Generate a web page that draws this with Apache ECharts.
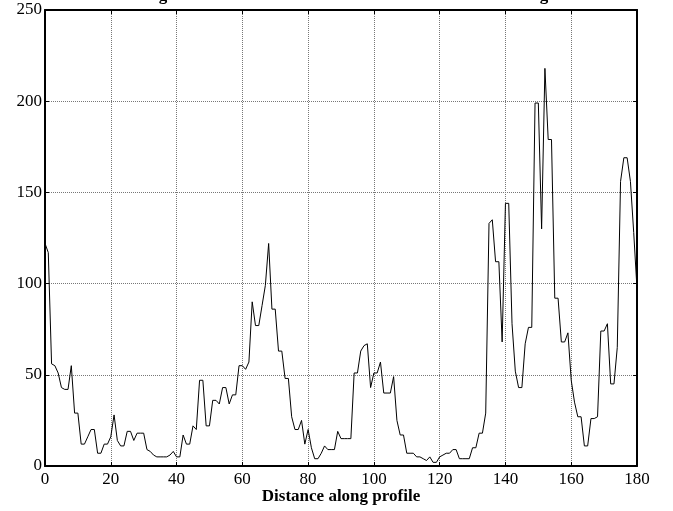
<!DOCTYPE html>
<html>
<head>
<meta charset="utf-8">
<script src="https://cdn.jsdelivr.net/npm/echarts@6/dist/echarts.min.js"></script>
<style>html,body{margin:0;padding:0;background:#fff;}#c{width:673px;height:511px;}</style>
</head>
<body>
<div id="c"></div>
<script>
// Distance along profile (x) and intensity values (y)
var distance = [];
for (var i = 0; i <= 180; i++) distance.push(i);
var intensity = [
122,117,56,55,51,43,42,42,55,29,
29,12,12,16,20,20,7,7,12,12,
16,28,14,11,11,19,19,14,18,18,
18,9,8,6,5,5,5,5,6,8,
5,5,17,12,12,22,20,47,47,22,
22,36,36,34,43,43,34,39,39,55,
55,53,57,90,77,77,88,99,122,86,
86,63,63,48,48,27,20,20,25,12,
20,10,4,4,7,11,9,9,9,19,
15,15,15,15,51,51,63,66,67,43,
51,51,57,40,40,40,49,25,17,17,
7,7,7,5,5,4,3,5,2,2,
5,6,7,7,9,9,4,4,4,4,
10,10,18,18,29,133,135,112,112,68,
144,144,78,52,43,43,67,76,76,199,
199,130,218,179,179,92,92,68,68,73,
47,35,27,27,11,11,26,26,27,74,
74,78,45,45,65,156,169,169,156,128,
97
];
var xTicks = [0,20,40,60,80,100,120,140,160,180];
var yTicks = [0,50,100,150,200,250];
var xLabel = 'Distance along profile';
var titleOptions = [
  'Intensities along the measured line drawn across the cell in the image',
  'Intensities along the measured line drawn across the cells in the image',
  'Intensities along the measured line drawn across the full cell in the image',
  'Intensities along the measured line drawn across the cell in this image'
];

var font = 'Liberation Serif';
// the title is clipped by the top edge in the reference; only two "g" descenders show
var cv = document.createElement('canvas').getContext('2d');
cv.font = 'bold 17px "' + font + '"';
function gSpan(t) {
  var a = t.indexOf('g'), b = t.lastIndexOf('g');
  return [cv.measureText(t.slice(0, a)).width, cv.measureText(t.slice(0, b)).width];
}
var titleText = titleOptions[0], best = 1e9;
titleOptions.forEach(function(t){
  var s = gSpan(t), d = Math.abs((s[1] - s[0]) - 385);
  if (d < best) { best = d; titleText = t; }
});
var gw = cv.measureText('g').width;
var titleLeft = 163 - gSpan(titleText)[0] - gw / 2;

var pts = distance.map(function(d, k){ return [d, intensity[k]]; });
var chart = echarts.init(document.getElementById('c'), null, {renderer:'canvas'});
var axisBase = {
  axisLine: {show: true, onZero: false, lineStyle: {color: '#000', width: 2}},
  axisTick: {show: true, inside: true, length: 4, lineStyle: {color: '#000', width: 1}}
};
chart.setOption({
  animation: false,
  backgroundColor: '#fff',
  title: {
    text: titleText,
    left: titleLeft,
    top: -13,
    padding: 0,
    textStyle: {fontFamily: font, fontWeight: 'bold', fontSize: 17, color: '#000'}
  },
  grid: {left: 45, right: 36, top: 10, bottom: 45, containLabel: false, outerBoundsMode: 'none'},
  xAxis: [
    Object.assign({}, axisBase, {
      type: 'value', min: 0, max: 180, interval: 20, position: 'bottom',
      name: xLabel, nameLocation: 'middle', nameGap: 22, nameMoveOverlap: false,
      nameTextStyle: {fontFamily: font, fontWeight: 'bold', fontSize: 17, color: '#000'},
      axisLabel: {fontFamily: font, fontSize: 17, color: '#000', margin: 5,
        formatter: function(v){ return xTicks.indexOf(v) >= 0 ? String(v) : ''; }},
      splitLine: {show: true, lineStyle: {color: '#777', type: [1, 1], width: 1}}
    }),
    Object.assign({}, axisBase, {
      type: 'value', min: 0, max: 180, interval: 20, position: 'top',
      axisLabel: {show: false}, splitLine: {show: false}
    })
  ],
  yAxis: [
    Object.assign({}, axisBase, {
      type: 'value', min: 0, max: 250, interval: 50, position: 'left',
      axisLabel: {fontFamily: font, fontSize: 17, color: '#000', margin: 3,
        formatter: function(v){ return yTicks.indexOf(v) >= 0 ? String(v) : ''; }},
      splitLine: {show: true, lineStyle: {color: '#777', type: [1, 1], width: 1}}
    }),
    Object.assign({}, axisBase, {
      type: 'value', min: 0, max: 250, interval: 50, position: 'right',
      axisLabel: {show: false}, splitLine: {show: false}
    })
  ],
  series: [{
    type: 'line',
    data: pts,
    showSymbol: false,
    symbol: 'none',
    lineStyle: {color: '#000', width: 1},
    xAxisIndex: 0, yAxisIndex: 0
  }]
});
</script>
</body>
</html>
